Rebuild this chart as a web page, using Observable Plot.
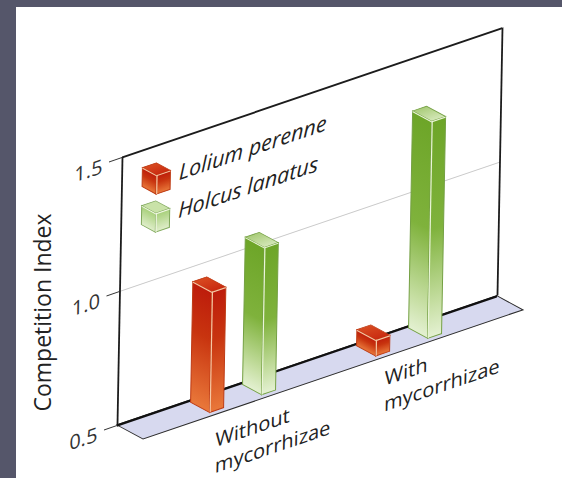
<!DOCTYPE html>
<html>
<head>
<meta charset="utf-8">
<script src="https://cdn.jsdelivr.net/npm/d3@7"></script>
<script src="https://cdn.jsdelivr.net/npm/@observablehq/plot@0.6"></script>
<style>
  html, body { margin: 0; background: #55566a; }
  #chart { position: absolute; left: 16px; top: 7px; width: 546px; height: 471px; background: #fff; }
  #chart svg { display: block; }
</style>
</head>
<body>
<div id="chart"></div>
<script>
// Competition index of two grasses with and without mycorrhizae.
const conditions = ["Without\nmycorrhizae", "With\nmycorrhizae"];
const species = ["Lolium perenne", "Holcus lanatus"];
const loliumValues = [0.95, 0.56];
const holcusValues = [1.05, 1.31];
const valueTicks = [0.5, 1.0, 1.5];
const yTitle = "Competition Index";

// Wall plane: sheared so that it recedes to the right.
const wallWidth = 380, wallHeight = 268;
const slope = -0.34, lean = -0.0187, originX = 106, originY = 150;
const depthSlope = 0.54;

// One x unit is the distance between the two conditions.
const unit = 166;
const xDomain = [-78 / unit, (wallWidth - 78) / unit];
const yDomain = [0.5, 1.5];
const px = (n) => n / unit;
const py = (n) => n / wallHeight;

const floorDepth = 26;
const barWidth = 14, barDepth = 19;
const barFront = [21.6, 11.6];
const speciesShift = 0.313;
const labelX = [0.126, 1.145];
const labelDrop = [37, 33];

// Rendering helpers: each places a mark on one plane of the box drawing.
const wrap = (node, transform) => {
  const g = document.createElementNS("http://www.w3.org/2000/svg", "g");
  g.setAttribute("transform", transform);
  g.appendChild(node);
  return g;
};
const inWall = (i, s, v, d, c, next) =>
  wrap(next(i, s, v, d, c), `matrix(1,${slope},${lean},1,${originX},${originY})`);
const perRect = (fn) => (i, s, v, d, c, next) => {
  const g = next(i, s, v, d, c);
  d3.select(g).selectAll("rect").each(function () {
    const r = this;
    const box = ["x", "y", "width", "height"].map((k) => +r.getAttribute(k));
    r.setAttribute("transform", fn(...box));
  });
  return g;
};
const frontPlane = ([tx, ty]) => (i, s, v, d, c, next) =>
  wrap(next(i, s, v, d, c), `matrix(1,${slope},${lean},1,${originX + tx},${originY + ty})`);
const sidePlane = ([tx, ty]) => perRect((x) =>
  `matrix(1,${depthSlope},${lean},1,${originX + tx},${originY + ty + (slope - depthSlope) * x})`);
const flatPlane = ([tx, ty]) => perRect((x, y, w, h) => {
  const edge = y + h;
  return `matrix(1,${slope},1,${depthSlope},${originX + tx + (lean - 1) * edge},${originY + ty + (1 - depthSlope) * edge})`;
});

// Draws the three visible faces of a box and its pale edges.
function boxes(rows, depth, front, look) {
  const back = [front[0] - depth, front[1] - depth * depthSlope];
  return [
    Plot.rect(rows, {
      x1: "x1", x2: (d) => d.x1 + px(depth), y1: "y1", y2: "y2",
      fill: look.side, stroke: look.line, strokeWidth: 1, render: sidePlane(back)
    }),
    Plot.rect(rows, {
      x1: "x1", x2: "x2", y1: "y1", y2: "y2",
      fill: look.side, stroke: look.line, strokeWidth: 1, render: frontPlane(front)
    }),
    Plot.rect(rows, {
      x1: "x1", x2: "x2", y1: "y2", y2: (d) => d.y2 + py(depth),
      fill: look.top, stroke: look.line, strokeWidth: 1, render: flatPlane(front)
    }),
    Plot.rect(rows, {
      x1: "x1", x2: (d) => d.x1 + px(1.2), y1: "y1", y2: "y2",
      fill: look.edge, render: frontPlane(front)
    }),
    Plot.rect(rows, {
      x1: "x1", x2: "x2", y1: "y2", y2: (d) => d.y2 - py(1.2),
      fill: look.edge, render: frontPlane(front)
    }),
    Plot.rect(rows, {
      x1: "x1", x2: (d) => d.x1 + px(depth), y1: "y2", y2: (d) => d.y2 - py(1.2),
      fill: look.edge, render: sidePlane(back)
    })
  ];
}

const barRows = (values, s) => values.map((v, i) => {
  const centre = i + s * speciesShift;
  return { x1: centre - px(barWidth / 2), x2: centre + px(barWidth / 2), y1: yDomain[0], y2: v };
});

const redLook = { side: "url(#redFace)", top: "url(#redTop)", line: "#bd3a14", edge: "#f6c8a4" };
const greenLook = { side: "url(#greenFace)", top: "url(#greenTop)", line: "#74a043", edge: "#eaf5d8" };
const greenKeyLook = { side: "url(#greenKey)", top: "#c9e2a8", line: "#7fa85a", edge: "#f1f8e4" };

// Legend swatches are small boxes sitting on the wall.
const keyRows = (s) => [{
  x1: px(35 - 78), x2: px(49 - 78),
  y1: 1.317 - 0.142 * s, y2: 1.317 - 0.142 * s + py(19)
}];

const labelFont = "'Open Sans', sans-serif";
const chart = Plot.plot({
  width: 546, height: 471,
  marginLeft: 0, marginRight: 0, marginTop: 0, marginBottom: 0,
  style: { background: "#fff", overflow: "visible", fontFamily: labelFont },
  x: { domain: xDomain, range: [0, wallWidth], axis: null },
  y: { domain: yDomain, range: [wallHeight, 0], axis: null },
  marks: [
    // floor
    Plot.rect([0], {
      x1: () => xDomain[0], x2: () => xDomain[1],
      y1: () => yDomain[0], y2: () => yDomain[0] + py(floorDepth),
      fill: "#d7d9ef", stroke: "#2b2b2b", strokeWidth: 1.3,
      render: flatPlane([floorDepth, floorDepth * depthSlope])
    }),
    // wall frame and the faint 1.0 gridline
    Plot.ruleY([1.0], { x1: xDomain[0], x2: xDomain[1], stroke: "#c9c9c9", strokeWidth: 1, render: inWall }),
    Plot.ruleX(xDomain, { y1: yDomain[0], y2: yDomain[1], stroke: "#1c1c1c", strokeWidth: 1.8, render: inWall }),
    Plot.ruleY([yDomain[1]], { x1: xDomain[0], x2: xDomain[1], stroke: "#1c1c1c", strokeWidth: 2, render: inWall }),
    Plot.ruleY([yDomain[0]], { x1: xDomain[0], x2: xDomain[1], stroke: "#111", strokeWidth: 2.4, render: inWall }),
    // value axis: ticks, then their labels set slightly lower
    Plot.axisY(valueTicks, {
      anchor: "left", tickSize: 13, text: null, label: null, stroke: "#333", render: inWall
    }),
    Plot.axisY(valueTicks, {
      anchor: "left", tickSize: 0, tickPadding: 20, dy: 2.5, label: null,
      tickFormat: (d) => d.toFixed(1), fontSize: 20, color: "#333", render: inWall
    }),
    // bars
    ...boxes(barRows(loliumValues, 0), barDepth, barFront, redLook),
    ...boxes(barRows(holcusValues, 1), barDepth, barFront, greenLook),
    // legend
    ...boxes(keyRows(0), 14, [0, 0], redLook),
    ...boxes(keyRows(1), 14, [0, 0], greenKeyLook),
    Plot.text(species, {
      x: () => px(57 - 78), y: (d, i) => 1.342 - 0.142 * i, text: (d) => d,
      textAnchor: "start", lineAnchor: "bottom", fontSize: 21.5, fontStyle: "italic",
      fill: "#222", render: inWall
    }),
    // condition labels
    Plot.text(conditions, {
      x: (d, i) => labelX[i], y: (d, i) => yDomain[0] - py(labelDrop[i]), text: (d) => d,
      textAnchor: "start", lineAnchor: "top", lineHeight: 1.3, fontSize: 20,
      fill: "#222", render: inWall
    }),
    // value axis title
    Plot.text([yTitle], {
      frameAnchor: "top-left", dx: 18, dy: 305, rotate: -90, text: (d) => d,
      textAnchor: "middle", fontSize: 23, fill: "#222"
    })
  ]
});

// Face gradients shared by the bars and legend swatches.
const defs = d3.select(chart).insert("defs", ":first-child");
const gradient = (id, stops) => {
  const g = defs.append("linearGradient").attr("id", id)
    .attr("x1", 0).attr("x2", 0).attr("y1", 0).attr("y2", 1);
  stops.forEach(([o, c]) => g.append("stop").attr("offset", o).attr("stop-color", c));
};
gradient("redFace", [[0, "#bd1c0b"], [0.4, "#c8340f"], [1, "#e9783a"]]);
gradient("redTop", [[0, "#d84a20"], [1, "#c92a10"]]);
gradient("greenFace", [[0, "#6da528"], [0.5, "#7fb23c"], [0.85, "#c7dfa4"], [1, "#e4f1d2"]]);
gradient("greenTop", [[0, "#a9cc79"], [1, "#d4e7b8"]]);
gradient("greenKey", [[0, "#a6cf78"], [1, "#e0eecb"]]);

document.getElementById("chart").appendChild(chart);
</script>
</body>
</html>
